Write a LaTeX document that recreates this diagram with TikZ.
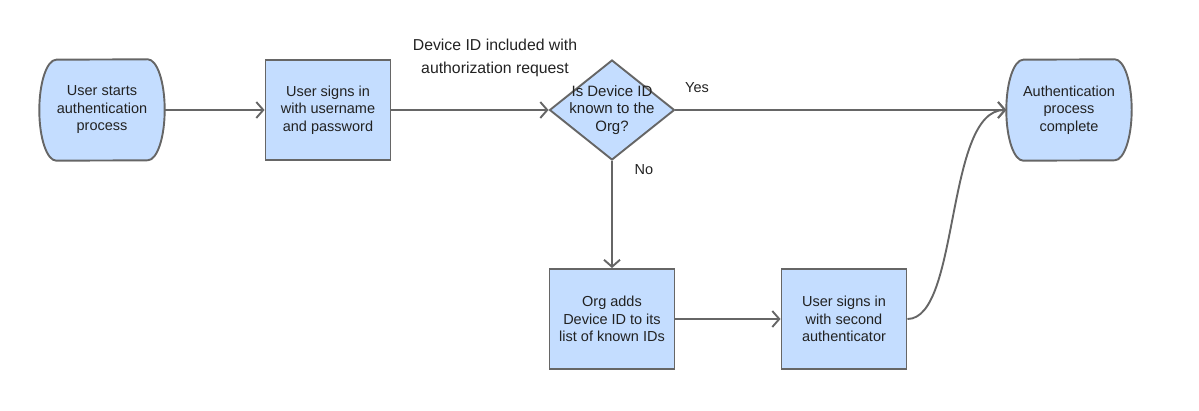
\documentclass[tikz,border=0pt]{standalone}
\usepackage{fontspec}
\setmainfont{Liberation Sans}
\usetikzlibrary{shapes.geometric,arrows.meta,backgrounds}

\definecolor{boxfill}{HTML}{C4DDFF}
\definecolor{boxline}{HTML}{666666}
\definecolor{inkcol}{HTML}{222222}

\tikzset{
  base/.style={draw=boxline, fill=boxfill, line width=1.9pt, text=inkcol,
    align=center, inner sep=0pt, font=\fontsize{14.5}{17.5}\selectfont},
  terminal/.style={text=inkcol, align=center, inner sep=0pt, font=\fontsize{14.5}{17.5}\selectfont,
    minimum width=125pt, minimum height=101pt},
  outline/.style={draw=boxline, fill=boxfill, line width=1.9pt},
  procbox/.style={base, rectangle, minimum width=125pt, minimum height=100pt},
  decision/.style={base, diamond, aspect=1.25, minimum width=125pt, minimum height=100pt},
  note/.style={text=inkcol, align=center, font=\fontsize{14.5}{22.5}\selectfont},
  flow/.style={->, draw=boxline, line width=1.9pt},
}

\begin{document}
\begin{tikzpicture}[x=1pt, y=-1pt, >={Straight Barb[length=7pt,width=16pt]}]
  \useasboundingbox (0,0) rectangle (1199,411);

  % top row
  \node[terminal] (start) at (102,110) {User starts\\authentication\\process};
  \node[procbox] (signin) at (328,110) {User signs in\\with username\\and password};
  \node[decision, label={[note, font=\fontsize{15}{17.5}\selectfont]center:Is Device ID\\known to the\\Org?}] (known) at (612,110) {};
  \node[terminal] (done) at (1069,110) {Authentication\\process\\complete};

  % bottom row
  \node[procbox] (addid) at (612,319) {Org adds\\Device ID to its\\list of known IDs};
  \node[procbox] (second) at (844,319) {User signs in\\with second\\authenticator};

  % labels
  \node[note, font=\fontsize{15.8}{23}\selectfont] (devnote) at (495,58) {Device ID included with\\authorization request};
  \node[note] (yes) at (697,88) {Yes};
  \node[note] (no) at (644,170) {No};

  % terminal outlines
  \begin{scope}[on background layer]
    \foreach \n in {start, done} {
      \path[outline] ([xshift=-17pt]\n.north east)
        arc[start angle=90, end angle=-90, x radius=17pt, y radius=50.5pt]
        -- ([xshift=17pt]\n.south west)
        arc[start angle=270, end angle=90, x radius=17pt, y radius=50.5pt] -- cycle;
    }
  \end{scope}

  \foreach \from/\to in {start/signin, signin/known, known/done, known/addid, addid/second} {
    \draw[flow] (\from) -- (\to);
  }

  \draw[flow] (second.east) .. controls (960,319) and (945,110) .. (done.west);

\end{tikzpicture}
\end{document}
